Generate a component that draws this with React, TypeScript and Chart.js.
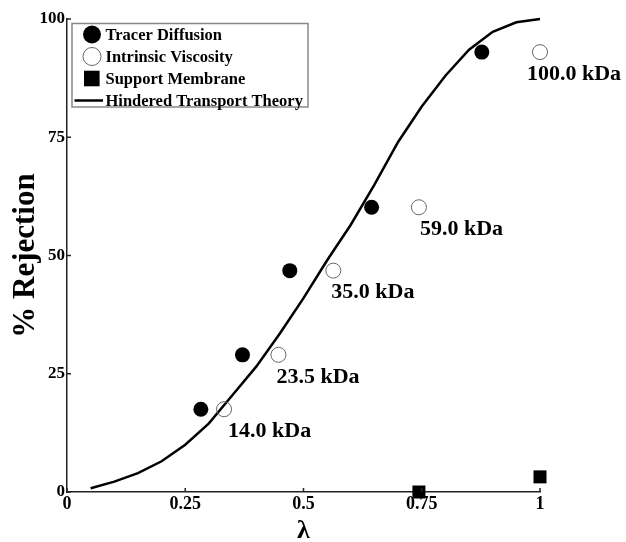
import { useEffect, useRef } from "react";
import { Chart, registerables } from "chart.js";

Chart.register(...registerables);

// ---- data ----
const tracerLambda = [0.283, 0.371, 0.471, 0.644, 0.877];
const tracerRejection = [17.5, 29.0, 46.8, 60.2, 93.0];
const viscosityLambda = [0.332, 0.447, 0.563, 0.744, 1.0];
const viscosityRejection = [17.5, 29.0, 46.8, 60.2, 93.0];
const viscosityLabels = ["14.0 kDa", "23.5 kDa", "35.0 kDa", "59.0 kDa", "100.0 kDa"];
const membraneLambda = [0.744, 1.0];
const membraneRejection = [0, 3.2];
const theoryLambda = [0.05, 0.1, 0.15, 0.2, 0.25, 0.3, 0.35, 0.4, 0.45, 0.5, 0.55, 0.6, 0.65, 0.7, 0.75, 0.8, 0.85, 0.9, 0.95, 1.0];
const theoryRejection = [0.8, 2.2, 4.0, 6.5, 10.0, 14.5, 20.5, 26.5, 33.5, 41.0, 49.0, 56.5, 65.0, 74.0, 81.5, 88.0, 93.5, 97.3, 99.3, 100];
const xTickValues = [0, 0.25, 0.5, 0.75, 1];
const xTickLabels = ["0", "0.25", "0.5", "0.75", "1"];
const yTickValues = [0, 25, 50, 75, 100];
const yTickLabels = ["0", "25", "50", "75", "100"];
const seriesNames = ["Tracer Diffusion", "Intrinsic Viscosity", "Support Membrane", "Hindered Transport Theory"];

// ---- styles ----
const SERIF = "'Liberation Serif', 'Times New Roman', Times, serif";
const AXIS_COLOR = "#222";
const labelOffsets = [4, -2, -2, 1, -13];

const toPoints = (xs: number[], ys: number[]) => xs.map((x, i) => ({ x, y: ys[i] }));

const decorPlugin = {
  id: "decor",
  afterDatasetsDraw(chart: any) {
    const { ctx, chartArea } = chart;
    const xs = chart.scales.x;
    const ys = chart.scales.y;
    ctx.save();
    // inward tick marks
    ctx.strokeStyle = AXIS_COLOR;
    ctx.lineWidth = 1.5;
    xTickValues.forEach((v) => {
      const px = xs.getPixelForValue(v);
      ctx.beginPath();
      ctx.moveTo(px, chartArea.bottom);
      ctx.lineTo(px, chartArea.bottom - 4);
      ctx.stroke();
    });
    yTickValues.forEach((v) => {
      const py = ys.getPixelForValue(v);
      ctx.beginPath();
      ctx.moveTo(chartArea.left, py);
      ctx.lineTo(chartArea.left + 4, py);
      ctx.stroke();
    });

    // kDa labels next to intrinsic viscosity points
    ctx.fillStyle = "#000";
    ctx.font = `bold 22px ${SERIF}`;
    ctx.textAlign = "left";
    ctx.textBaseline = "middle";
    viscosityLabels.forEach((t, i) => {
      const px = xs.getPixelForValue(viscosityLambda[i]);
      const py = ys.getPixelForValue(viscosityRejection[i]);
      ctx.fillText(t, px + labelOffsets[i], py + 22);
    });

    // legend box
    const lx = chartArea.left + 5;
    const ly = chartArea.top + 4.5;
    const lw = 236;
    const lh = 83.5;
    ctx.fillStyle = "#fff";
    ctx.fillRect(lx, ly, lw, lh);
    ctx.strokeStyle = "#888";
    ctx.lineWidth = 1.5;
    ctx.strokeRect(lx, ly, lw, lh);
    const mx = lx + 20;
    const tx = lx + 33.5;
    ctx.font = `bold 16.5px ${SERIF}`;
    seriesNames.forEach((name, i) => {
      const cy = ly + 11 + i * 22;
      ctx.beginPath();
      if (i === 0) {
        ctx.fillStyle = "#000";
        ctx.arc(mx, cy, 9, 0, Math.PI * 2);
        ctx.fill();
      } else if (i === 1) {
        ctx.strokeStyle = "#666";
        ctx.lineWidth = 1;
        ctx.arc(mx, cy, 9, 0, Math.PI * 2);
        ctx.stroke();
      } else if (i === 2) {
        ctx.fillStyle = "#000";
        ctx.fillRect(mx - 8, cy - 7.8, 15.6, 15.6);
      } else {
        ctx.strokeStyle = "#000";
        ctx.lineWidth = 2.5;
        ctx.moveTo(lx + 2.5, cy);
        ctx.lineTo(lx + 31, cy);
        ctx.stroke();
      }
      ctx.fillStyle = "#000";
      ctx.fillText(name, tx, cy + 1);
    });
    ctx.restore();
  },
};

export default function App() {
  const ref = useRef<HTMLCanvasElement | null>(null);

  useEffect(() => {
    if (!ref.current) return;
    const chart = new Chart(ref.current, {
      type: "scatter",
      data: {
        datasets: [
          {
            label: seriesNames[0],
            data: toPoints(tracerLambda, tracerRejection),
            pointStyle: "circle",
            pointRadius: 7.5,
            pointBackgroundColor: "#000",
            pointBorderColor: "#000",
            pointBorderWidth: 0,
            clip: false,
          },
          {
            label: seriesNames[1],
            data: toPoints(viscosityLambda, viscosityRejection),
            pointStyle: "circle",
            pointRadius: 7.5,
            pointBackgroundColor: "rgba(255,255,255,0)",
            pointBorderColor: "#666",
            pointBorderWidth: 1,
            clip: false,
          },
          {
            label: seriesNames[2],
            data: toPoints(membraneLambda, membraneRejection),
            pointStyle: "rect",
            pointRadius: 9.2,
            pointBackgroundColor: "#000",
            pointBorderColor: "#000",
            pointBorderWidth: 0,
            clip: false,
          },
          {
            label: seriesNames[3],
            data: toPoints(theoryLambda, theoryRejection),
            showLine: true,
            pointRadius: 0,
            borderColor: "#000",
            borderWidth: 2.5,
            tension: 0,
            fill: false,
            clip: false,
          },
        ],
      },
      options: {
        animation: false,
        responsive: false,
        devicePixelRatio: 1,
        layout: { padding: { top: 19, right: 86, bottom: 0, left: 0 } },
        plugins: {
          legend: { display: false },
          tooltip: { enabled: false },
        },
        scales: {
          x: {
            type: "linear",
            min: 0,
            max: 1,
            afterFit: (s: any) => {
              s.height = 50;
            },
            afterBuildTicks: (s: any) => {
              s.ticks = xTickValues.map((v) => ({ value: v }));
            },
            grid: { display: false, drawTicks: false },
            border: { display: true, color: AXIS_COLOR, width: 1.5 },
            ticks: {
              padding: 2,
              color: "#000",
              font: { family: SERIF, size: 18, weight: "bold" },
              maxRotation: 0,
              autoSkip: false,
              callback: (v: any) => {
                const i = xTickValues.indexOf(Number(v));
                return i >= 0 ? xTickLabels[i] : "";
              },
            },
            title: {
              display: true,
              text: "λ",
              color: "#000",
              font: { family: SERIF, size: 26, weight: "bold", lineHeight: 0.7 },
              padding: { top: 0, bottom: 2 },
            },
          },
          y: {
            type: "linear",
            min: 0,
            max: 100,
            afterFit: (s: any) => {
              s.width = 67;
            },
            afterBuildTicks: (s: any) => {
              s.ticks = yTickValues.map((v) => ({ value: v }));
            },
            grid: { display: false, drawTicks: false },
            border: { display: true, color: AXIS_COLOR, width: 1.5 },
            ticks: {
              padding: 2,
              color: "#000",
              font: { family: SERIF, size: 17, weight: "bold" },
              autoSkip: false,
              callback: (v: any) => {
                const i = yTickValues.indexOf(Number(v));
                return i >= 0 ? yTickLabels[i] : "";
              },
            },
            title: {
              display: true,
              text: "% Rejection",
              color: "#000",
              font: { family: SERIF, size: 31, weight: "bold", lineHeight: 1.2 },
              padding: { top: 7, bottom: 0 },
            },
          },
        },
      } as any,
      plugins: [decorPlugin],
    });
    return () => chart.destroy();
  }, []);

  return (
    <div style={{ position: "fixed", left: 0, top: 0, width: 626, height: 542, background: "#fff" }}>
      <canvas ref={ref} width={626} height={542} style={{ display: "block" }} />
    </div>
  );
}
